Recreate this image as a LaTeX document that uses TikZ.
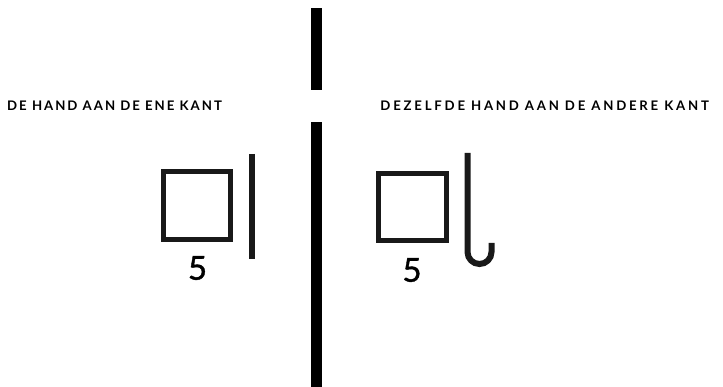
\documentclass[tikz,border=0pt]{standalone}
\usepackage{fontspec}
\setmainfont{Lato}
\newfontfamily\capsfont[LetterSpace=15]{Lato Bold}
\newfontfamily\capsfontwide[LetterSpace=21]{Lato Bold}
\newfontfamily\digitfont[FakeBold=1.2]{Lato}
\begin{document}
\begin{tikzpicture}[x=1pt,y=1pt,
  captext/.style={font=\capsfont\fontsize{13.2}{15}\selectfont, inner sep=0pt},
  captextwide/.style={font=\capsfontwide\fontsize{13.2}{15}\selectfont, inner sep=0pt},
  digit/.style={font=\digitfont\fontsize{33}{36}\selectfont, inner sep=0pt},
  signline/.style={draw=black!90, line width=5pt}]
\useasboundingbox (0,0) rectangle (723,-387);
% divider
\fill[black] (311,-8) rectangle (322,-90);
\fill[black] (311,-122) rectangle (322,-387);
% labels
\node[captext, anchor=west] (l) at (7,-105.5) {DE HAND AAN DE ENE KANT};
\node[captextwide, anchor=east] (r) at (709,-105.5) {DEZELFDE HAND AAN DE ANDERE KANT};
% left sign
\draw[signline] (163.5,-171.5) rectangle (230.5,-239.5);
\draw[signline, line width=6pt] (252,-154) -- (252,-259);
\node[digit] (d1) at (197.5,-268) {5};
% right sign
\draw[signline] (378.5,-173.5) rectangle (446.5,-240.5);
\draw[signline, line width=6pt] (467.5,-153) -- (467.5,-252) arc (180:360:12) -- (491.5,-243);
\node[digit] (d2) at (412,-270) {5};
\end{tikzpicture}
\end{document}
